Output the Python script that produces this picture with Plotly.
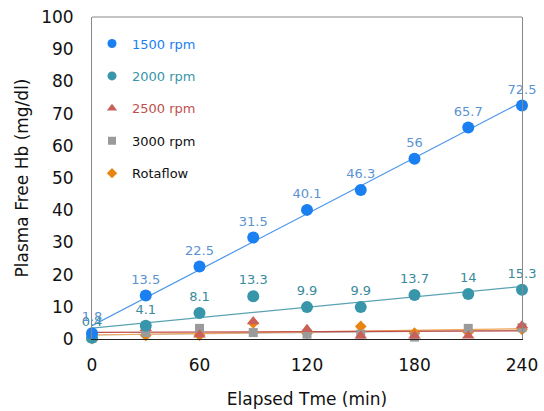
import numpy as np
import plotly.graph_objects as go

time_min = [0, 30, 60, 90, 120, 150, 180, 210, 240]
rpm1500 = [1.8, 13.5, 22.5, 31.5, 40.1, 46.3, 56, 65.7, 72.5]
rpm2000 = [0.4, 4.1, 8.1, 13.3, 9.9, 9.9, 13.7, 14, 15.3]
rpm2500 = [0.3, 3.3, 1.3, 5.4, 3.0, 1.0, 1.0, 1.0, 4.2]
rpm3000 = [0.2, 2.0, 3.3, 2.0, 1.5, 1.5, 0.6, 3.3, 3.5]
rotaflow = [0.1, 1.1, 1.2, 5.0, 1.8, 3.9, 1.8, 2.1, 3.0]
x_ticks = [0, 60, 120, 180, 240]

names = ["1500 rpm", "2000 rpm", "2500 rpm", "3000 rpm", "Rotaflow"]
series = [rpm1500, rpm2000, rpm2500, rpm3000, rotaflow]
colors = ["#1a7ff0", "#3896aa", "#c9605a", "#9a9a9a", "#ea8410"]
name_colors = ["#1a7ff0", "#3896aa", "#c0504d", "#111111", "#111111"]
symbols = ["circle", "circle", "triangle-up", "square", "diamond"]
sizes = [12, 12, 11, 9, 9]
legend_sizes = [9, 9, 9, 8, 8]
label_colors = ["#5b93d2", "#3a8a9c", None, None, None]
line_colors = ["#4a95ea", "#5aa2b2", "#c0504d", "#b8b8b8", "#f0a858"]

FONT = "DejaVu Sans"
fig = go.Figure()

x = np.array(time_min, dtype=float)
xl = np.array([0.0, 240.0])
# trendlines (least-squares fit of each series)
for i in [3, 4, 2, 1, 0]:
    k, b = np.polyfit(x, np.array(series[i], dtype=float), 1)
    fig.add_trace(go.Scatter(x=xl, y=k * xl + b, mode="lines",
                             line=dict(color=line_colors[i], width=1.2),
                             showlegend=False, hoverinfo="skip", cliponaxis=False))

for i in [4, 3, 2, 1, 0]:
    lab = label_colors[i]
    fig.add_trace(go.Scatter(
        x=time_min, y=series[i],
        mode="markers+text" if lab else "markers",
        showlegend=False,
        marker=dict(symbol=symbols[i], size=sizes[i], color=colors[i]),
        text=[str(v) for v in series[i]] if lab else None,
        textposition="top center",
        textfont=dict(size=13, color=lab, family=FONT),
        cliponaxis=False,
    ))

# legend entries (smaller markers, as in the reference)
for i in range(5):
    fig.add_trace(go.Scatter(
        x=[None], y=[None], mode="markers",
        name=f"<span style='color:{name_colors[i]}'>{names[i]}</span>",
        legendgroup=names[i],
        marker=dict(symbol=symbols[i], size=legend_sizes[i], color=colors[i]),
    ))

fig.update_layout(
    width=544, height=411,
    margin=dict(l=92, r=22, t=17, b=72, autoexpand=False),
    paper_bgcolor="white", plot_bgcolor="white",
    font=dict(family=FONT, size=16, color="#111"),
    showlegend=True,
    legend=dict(x=0.0, y=0.964, xanchor="left", yanchor="top",
                bgcolor="rgba(0,0,0,0)", font=dict(size=13, family=FONT),
                tracegroupgap=12.5, itemsizing="trace", itemwidth=30,
                traceorder="grouped"),
    xaxis=dict(range=[0, 240], tickvals=x_ticks, automargin=False,
               showgrid=False, zeroline=False, showline=True,
               linecolor="#222", linewidth=1.3, ticks="", ticklabelstandoff=10,
               title=dict(text="Elapsed Tme (min)", font=dict(size=17), standoff=19),
               tickfont=dict(size=17)),
    yaxis=dict(range=[0, 100], dtick=10, showgrid=False, zeroline=False, automargin=False,
               showline=True, linecolor="#888", linewidth=1, mirror=True, ticks="",
               ticklabelstandoff=14,
               title=dict(text="Plasma Free Hb (mg/dl)", font=dict(size=17), standoff=8),
               tickfont=dict(size=17)),
    shapes=[dict(type="line", xref="paper", yref="paper", x0=0, x1=1, y0=1, y1=1,
                 line=dict(color="#888", width=1))],
)

fig.write_html("out.html", config={"displayModeBar": False},
               post_script="document.body.style.margin='0';")
